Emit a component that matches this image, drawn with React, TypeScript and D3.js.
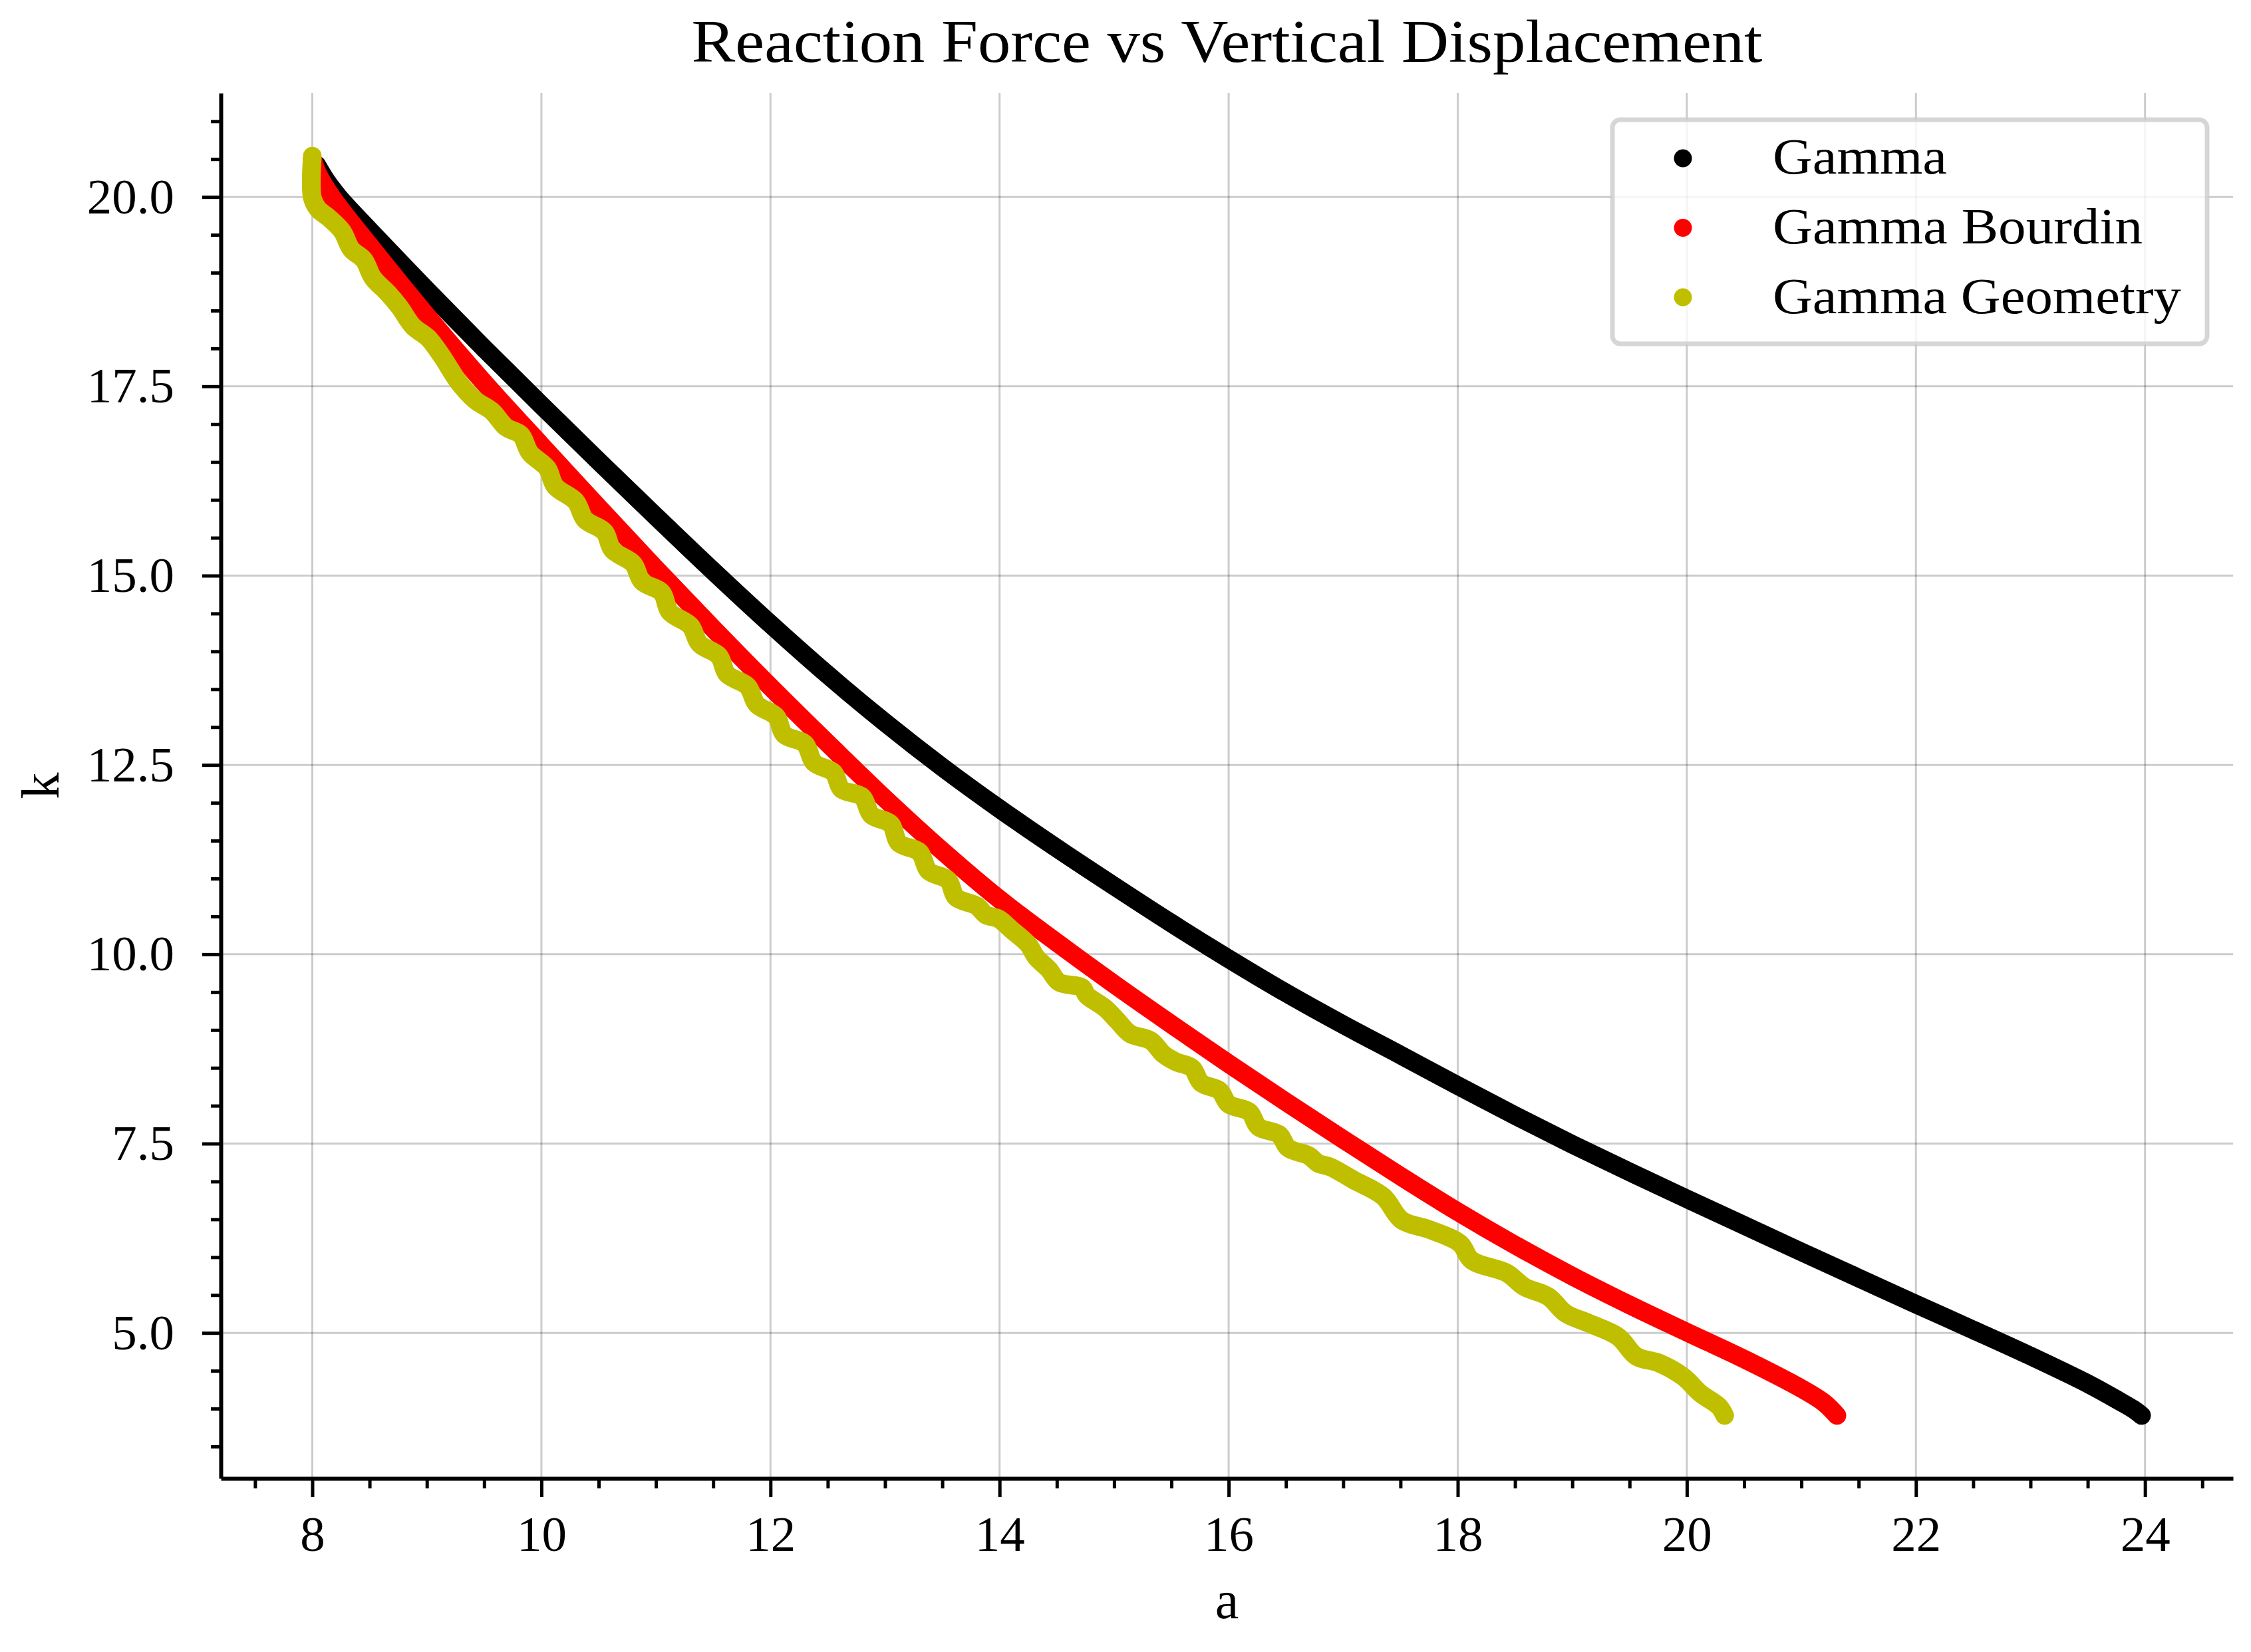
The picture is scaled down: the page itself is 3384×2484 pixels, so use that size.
import React, { useEffect, useRef } from 'react';
import * as d3 from 'd3';

// values
const gammaA = [8.04, 8.12, 8.23, 8.5, 9.0, 9.5, 10.0, 10.5, 11.0, 11.5, 12.0, 12.5, 13.0, 13.5, 14.0, 14.5, 15.0, 15.5, 16.0, 16.5, 17.0, 17.5, 18.0, 18.5, 19.0, 19.5, 20.0, 20.5, 21.0, 21.5, 22.0, 22.5, 23.0, 23.5, 23.77, 23.9, 23.97];
const gammaK = [20.42, 20.22, 20.0, 19.56, 18.77, 18.0, 17.25, 16.51, 15.78, 15.06, 14.36, 13.69, 13.06, 12.47, 11.92, 11.4, 10.9, 10.41, 9.94, 9.49, 9.07, 8.67, 8.265, 7.87, 7.49, 7.125, 6.77, 6.42, 6.07, 5.725, 5.38, 5.04, 4.695, 4.33, 4.105, 3.99, 3.91];

const bourdinA = [8.0, 8.05, 8.17, 8.5, 9.0, 9.54, 10.0, 10.5, 11.0, 11.5, 12.0, 12.5, 13.0, 13.5, 14.0, 14.5, 15.0, 15.5, 16.0, 16.5, 17.0, 17.5, 18.0, 18.5, 19.0, 19.5, 20.0, 20.5, 21.0, 21.2, 21.31];
const bourdinK = [20.5, 20.3, 20.0, 19.36, 18.43, 17.48, 16.72, 15.9, 15.09, 14.3, 13.53, 12.785, 12.055, 11.365, 10.725, 10.155, 9.605, 9.075, 8.555, 8.05, 7.555, 7.07, 6.6, 6.16, 5.75, 5.37, 5.01, 4.655, 4.265, 4.075, 3.91];

const geometryA = [8.0, 8.0, 8.05, 8.14, 8.26, 8.34, 8.45, 8.53, 8.66, 8.76, 8.88, 9.01, 9.13, 9.28, 9.42, 9.57, 9.69, 9.82, 9.9, 10.05, 10.12, 10.3, 10.38, 10.55, 10.62, 10.8, 10.88, 11.05, 11.12, 11.3, 11.38, 11.55, 11.62, 11.8, 11.88, 12.05, 12.12, 12.3, 12.38, 12.55, 12.62, 12.8, 12.88, 13.05, 13.12, 13.3, 13.38, 13.55, 13.62, 13.8, 13.88, 13.99, 14.1, 14.25, 14.32, 14.43, 14.52, 14.72, 14.76, 14.92, 15.03, 15.14, 15.32, 15.43, 15.54, 15.68, 15.76, 15.92, 16.0, 16.18, 16.26, 16.44, 16.52, 16.7, 16.78, 16.89, 17.09, 17.35, 17.51, 17.76, 18.02, 18.12, 18.43, 18.58, 18.79, 18.94, 19.14, 19.4, 19.56, 19.76, 19.97, 20.12, 20.28, 20.33];
const geometryK = [20.54, 19.99, 19.84, 19.73, 19.55, 19.31, 19.17, 18.93, 18.73, 18.55, 18.29, 18.14, 17.9, 17.55, 17.32, 17.17, 16.96, 16.86, 16.62, 16.42, 16.18, 15.98, 15.74, 15.58, 15.34, 15.16, 14.92, 14.78, 14.52, 14.34, 14.1, 13.94, 13.7, 13.54, 13.3, 13.14, 12.9, 12.78, 12.53, 12.4, 12.18, 12.08, 11.84, 11.72, 11.47, 11.35, 11.1, 10.98, 10.75, 10.64, 10.52, 10.47, 10.33, 10.13, 9.96, 9.8, 9.63, 9.56, 9.46, 9.29, 9.12, 8.95, 8.86, 8.68, 8.58, 8.5, 8.3, 8.2, 8.02, 7.92, 7.72, 7.62, 7.44, 7.34, 7.24, 7.19, 7.02, 6.8, 6.49, 6.36, 6.18, 5.96, 5.79, 5.61, 5.48, 5.26, 5.13, 4.95, 4.69, 4.6, 4.42, 4.2, 4.03, 3.91];

const seriesNames = ['Gamma', 'Gamma Bourdin', 'Gamma Geometry'];
const seriesColors = ['#000000', '#ff0000', '#bfbf00'];
const xTicks = [8, 10, 12, 14, 16, 18, 20, 22, 24];
const yTicks = [5, 7.5, 10, 12.5, 15, 17.5, 20];

const FONT = "'Liberation Serif', 'Times New Roman', serif";

const App = () => {
    const ref = useRef<SVGSVGElement>(null);

    useEffect(() => {
        const svg = d3.select(ref.current);
        svg.selectAll('*').remove();

        const width = 3384;
        const height = 2484;
        const margin = { top: 140, right: 27, bottom: 261, left: 332 };

        const series = [
            { a: gammaA, k: gammaK },
            { a: bourdinA, k: bourdinK },
            { a: geometryA, k: geometryK },
        ].map((s, i) => ({
            name: seriesNames[i],
            color: seriesColors[i],
            points: s.a.map((a, j) => [a, s.k[j]] as [number, number]),
        }));

        // matplotlib-like 5% margins around the data
        const allA = series.flatMap(s => s.points.map(p => p[0]));
        const allK = series.flatMap(s => s.points.map(p => p[1]));
        const [a0, a1] = d3.extent(allA) as [number, number];
        const [k0, k1] = d3.extent(allK) as [number, number];
        const padA = (a1 - a0) * 0.05;
        const padK = (k1 - k0) * 0.05;

        const x = d3.scaleLinear()
            .domain([a0 - padA, a1 + padA])
            .range([margin.left, width - margin.right]);
        const y = d3.scaleLinear()
            .domain([k0 - padK, k1 + padK])
            .range([height - margin.bottom, margin.top]);

        svg.append('rect').attr('width', width).attr('height', height).attr('fill', '#fff');

        // grid
        const grid = svg.append('g').attr('stroke', '#000').attr('stroke-opacity', 0.2).attr('stroke-width', 3);
        grid.selectAll('.gx').data(xTicks).enter().append('line')
            .attr('x1', d => x(d)).attr('x2', d => x(d))
            .attr('y1', margin.top).attr('y2', height - margin.bottom);
        grid.selectAll('.gy').data(yTicks).enter().append('line')
            .attr('y1', d => y(d)).attr('y2', d => y(d))
            .attr('x1', margin.left).attr('x2', width - margin.right);

        // curves
        const line = d3.line<[number, number]>()
            .x(d => x(d[0]))
            .y(d => y(d[1]))
            .curve(d3.curveCatmullRom.alpha(0.5));

        svg.selectAll('.curve')
            .data(series)
            .enter()
            .append('path')
            .attr('d', d => line(d.points))
            .attr('fill', 'none')
            .attr('stroke', d => d.color)
            .attr('stroke-width', 28)
            .attr('stroke-linecap', 'round')
            .attr('stroke-linejoin', 'round');

        // minor ticks
        const xMinor = d3.range(7.5, 24.76, 0.5).filter(v => v % 2 !== 0);
        const yMinor = d3.range(3.5, 21.26, 0.5).filter(v => Math.abs(v / 2.5 - Math.round(v / 2.5)) > 1e-6);

        const xMinorAxis = svg.append('g')
            .attr('transform', `translate(0, ${height - margin.bottom})`)
            .call(d3.axisBottom(x).tickValues(xMinor).tickSize(15).tickFormat(() => ''));
        xMinorAxis.select('.domain').remove();
        xMinorAxis.selectAll('line').attr('stroke-width', 5);

        const yMinorAxis = svg.append('g')
            .attr('transform', `translate(${margin.left}, 0)`)
            .call(d3.axisLeft(y).tickValues(yMinor).tickSize(15).tickFormat(() => ''));
        yMinorAxis.select('.domain').remove();
        yMinorAxis.selectAll('line').attr('stroke-width', 5);

        // major axes
        const xAxis = svg.append('g')
            .attr('transform', `translate(0, ${height - margin.bottom})`)
            .call(d3.axisBottom(x).tickValues(xTicks).tickSize(28).tickSizeOuter(0).tickPadding(28).tickFormat(d3.format('d')));
        const yAxis = svg.append('g')
            .attr('transform', `translate(${margin.left}, 0)`)
            .call(d3.axisLeft(y).tickValues(yTicks).tickSize(28).tickSizeOuter(0).tickPadding(42).tickFormat(d3.format('.1f')));

        [xAxis, yAxis].forEach(g => {
            g.select('.domain').attr('stroke-width', 6);
            g.selectAll('.tick line').attr('stroke-width', 5);
            g.selectAll('text').attr('font-family', FONT).attr('font-size', 75).attr('fill', '#000');
        });

        // title and axis labels
        const cx = (margin.left + width - margin.right) / 2;
        svg.append('text')
            .attr('x', cx).attr('y', 93)
            .attr('text-anchor', 'middle')
            .attr('font-family', FONT).attr('font-size', 90)
            .attr('textLength', 1610).attr('lengthAdjust', 'spacingAndGlyphs')
            .text('Reaction Force vs Vertical Displacement');

        svg.append('text')
            .attr('x', cx).attr('y', 2433)
            .attr('text-anchor', 'middle')
            .attr('font-family', FONT).attr('font-size', 80)
            .text('a');

        svg.append('text')
            .attr('transform', `translate(88, ${(margin.top + height - margin.bottom) / 2}) rotate(-90)`)
            .attr('text-anchor', 'middle')
            .attr('font-family', FONT).attr('font-size', 80)
            .text('k');

        // legend
        const legend = svg.append('g');
        legend.append('rect')
            .attr('x', 2424).attr('y', 180).attr('width', 894).attr('height', 337).attr('rx', 12)
            .attr('fill', '#fff').attr('fill-opacity', 0.8)
            .attr('stroke', '#cccccc').attr('stroke-opacity', 0.8).attr('stroke-width', 7);
        const labelWidths = [262, 556, 614];
        const items = legend.selectAll('.item').data(series).enter().append('g');
        items.append('circle')
            .attr('cx', 2530).attr('cy', (_, i) => 238 + i * 104.5)
            .attr('r', 13.5).attr('fill', d => d.color);
        items.append('text')
            .attr('x', 2665).attr('y', (_, i) => 261 + i * 105)
            .attr('font-family', FONT).attr('font-size', 76)
            .attr('textLength', (_, i) => labelWidths[i]).attr('lengthAdjust', 'spacingAndGlyphs')
            .text(d => d.name);
    }, []);

    return <svg ref={ref} width={3384} height={2484} style={{ position: 'absolute', left: 0, top: 0 }}></svg>;
};

export default App;
